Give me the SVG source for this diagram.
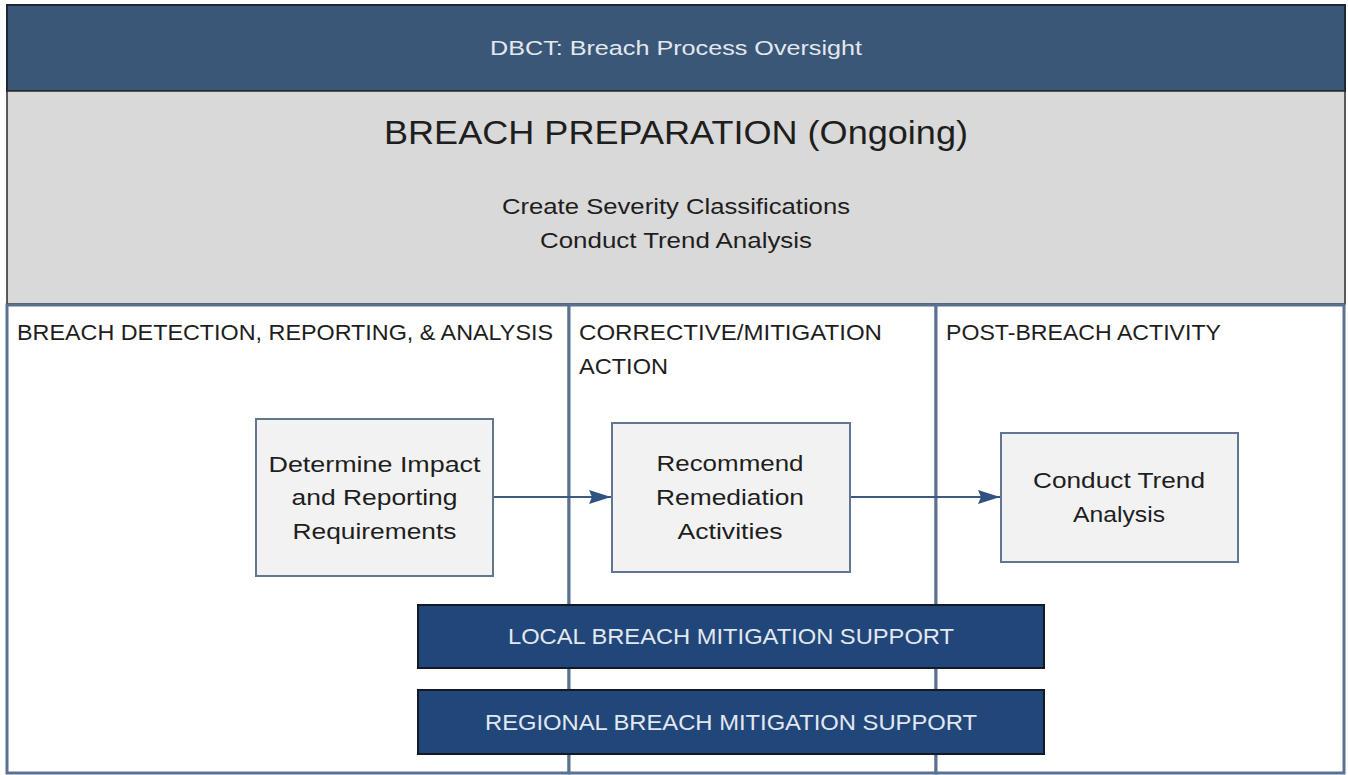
<svg xmlns="http://www.w3.org/2000/svg" width="1348" height="775" viewBox="0 0 1348 775">
  <style>
    text { font-family: "Liberation Sans", Arial, sans-serif; }
    .dark { fill: #1e1e1e; }
    .light { fill: #e3e8ef; }
    .lane { fill: #ffffff; stroke: #5b7190; stroke-width: 3; }
    .step { fill: #f2f2f2; stroke: #62768f; stroke-width: 2; }
    .band { fill: #21467a; stroke: #141a24; stroke-width: 2; }
    .flow { stroke: #3d5a80; stroke-width: 2; fill: none; }
  </style>
  <defs>
    <marker id="arrow" viewBox="0 0 22 14" refX="22" refY="7" markerWidth="22" markerHeight="14" markerUnits="userSpaceOnUse" orient="auto">
      <path d="M0,0 L22,7 L0,14 L3,7 z" fill="#2f5282"/>
    </marker>
  </defs>

  <rect x="0" y="0" width="1348" height="775" fill="#ffffff"/>

  <!-- oversight banner -->
  <g id="oversight">
    <rect x="7" y="5" width="1338" height="86" fill="#3b5778" stroke="#1c2838" stroke-width="2"/>
    <text x="676" y="55" font-size="20.5" text-anchor="middle" class="light" textLength="372" lengthAdjust="spacingAndGlyphs">DBCT: Breach Process Oversight</text>
  </g>

  <!-- preparation panel -->
  <g id="preparation">
    <rect x="7" y="91" width="1338" height="213" fill="#d9d9d9" stroke="#2a2a2a" stroke-width="1.5"/>
    <text x="676" y="144" font-size="33" text-anchor="middle" class="dark" textLength="584" lengthAdjust="spacingAndGlyphs">BREACH PREPARATION (Ongoing)</text>
    <text x="676" y="214" font-size="21.5" text-anchor="middle" class="dark" textLength="348" lengthAdjust="spacingAndGlyphs">Create Severity Classifications</text>
    <text x="676" y="248" font-size="21.5" text-anchor="middle" class="dark" textLength="272" lengthAdjust="spacingAndGlyphs">Conduct Trend Analysis</text>
  </g>

  <!-- swimlanes -->
  <g id="lane-detection">
    <rect x="7" y="305" width="562" height="468" class="lane"/>
    <text x="17" y="340" font-size="21.5" class="dark" textLength="536" lengthAdjust="spacingAndGlyphs">BREACH DETECTION, REPORTING, &amp; ANALYSIS</text>
  </g>
  <g id="lane-corrective">
    <rect x="569" y="305" width="367" height="468" class="lane"/>
    <text x="579" y="340" font-size="21.5" class="dark" textLength="303" lengthAdjust="spacingAndGlyphs">CORRECTIVE/MITIGATION</text>
    <text x="579" y="374" font-size="21.5" class="dark" textLength="89" lengthAdjust="spacingAndGlyphs">ACTION</text>
  </g>
  <g id="lane-post">
    <rect x="936" y="305" width="408" height="468" class="lane"/>
    <text x="946" y="340" font-size="21.5" class="dark" textLength="275" lengthAdjust="spacingAndGlyphs">POST-BREACH ACTIVITY</text>
  </g>

  <!-- connectors -->
  <g id="connectors">
    <line x1="493" y1="497" x2="611" y2="497" class="flow" marker-end="url(#arrow)"/>
    <line x1="850" y1="497" x2="1000" y2="497" class="flow" marker-end="url(#arrow)"/>
  </g>

  <!-- process steps -->
  <g id="determine-impact">
    <rect x="256" y="419" width="237" height="157" class="step"/>
    <text x="374.5" y="472" font-size="22.5" text-anchor="middle" class="dark" textLength="212" lengthAdjust="spacingAndGlyphs">Determine Impact</text>
    <text x="374.5" y="505" font-size="22.5" text-anchor="middle" class="dark" textLength="166" lengthAdjust="spacingAndGlyphs">and Reporting</text>
    <text x="374.5" y="539" font-size="22.5" text-anchor="middle" class="dark" textLength="164" lengthAdjust="spacingAndGlyphs">Requirements</text>
  </g>
  <g id="recommend-remediation">
    <rect x="612" y="423" width="238" height="149" class="step"/>
    <text x="730" y="471" font-size="22.5" text-anchor="middle" class="dark" textLength="147" lengthAdjust="spacingAndGlyphs">Recommend</text>
    <text x="730" y="505" font-size="22.5" text-anchor="middle" class="dark" textLength="148" lengthAdjust="spacingAndGlyphs">Remediation</text>
    <text x="730" y="539" font-size="22.5" text-anchor="middle" class="dark" textLength="105" lengthAdjust="spacingAndGlyphs">Activities</text>
  </g>
  <g id="conduct-trend">
    <rect x="1001" y="433" width="237" height="129" class="step"/>
    <text x="1119" y="488" font-size="22.5" text-anchor="middle" class="dark" textLength="172" lengthAdjust="spacingAndGlyphs">Conduct Trend</text>
    <text x="1119" y="522" font-size="22.5" text-anchor="middle" class="dark" textLength="92" lengthAdjust="spacingAndGlyphs">Analysis</text>
  </g>

  <!-- support bands -->
  <g id="local-support">
    <rect x="418" y="605" width="626" height="63" class="band"/>
    <text x="731" y="644" font-size="21.5" text-anchor="middle" class="light" textLength="446" lengthAdjust="spacingAndGlyphs">LOCAL BREACH MITIGATION SUPPORT</text>
  </g>
  <g id="regional-support">
    <rect x="418" y="690" width="626" height="64" class="band"/>
    <text x="731" y="730" font-size="21.5" text-anchor="middle" class="light" textLength="492" lengthAdjust="spacingAndGlyphs">REGIONAL BREACH MITIGATION SUPPORT</text>
  </g>
</svg>
